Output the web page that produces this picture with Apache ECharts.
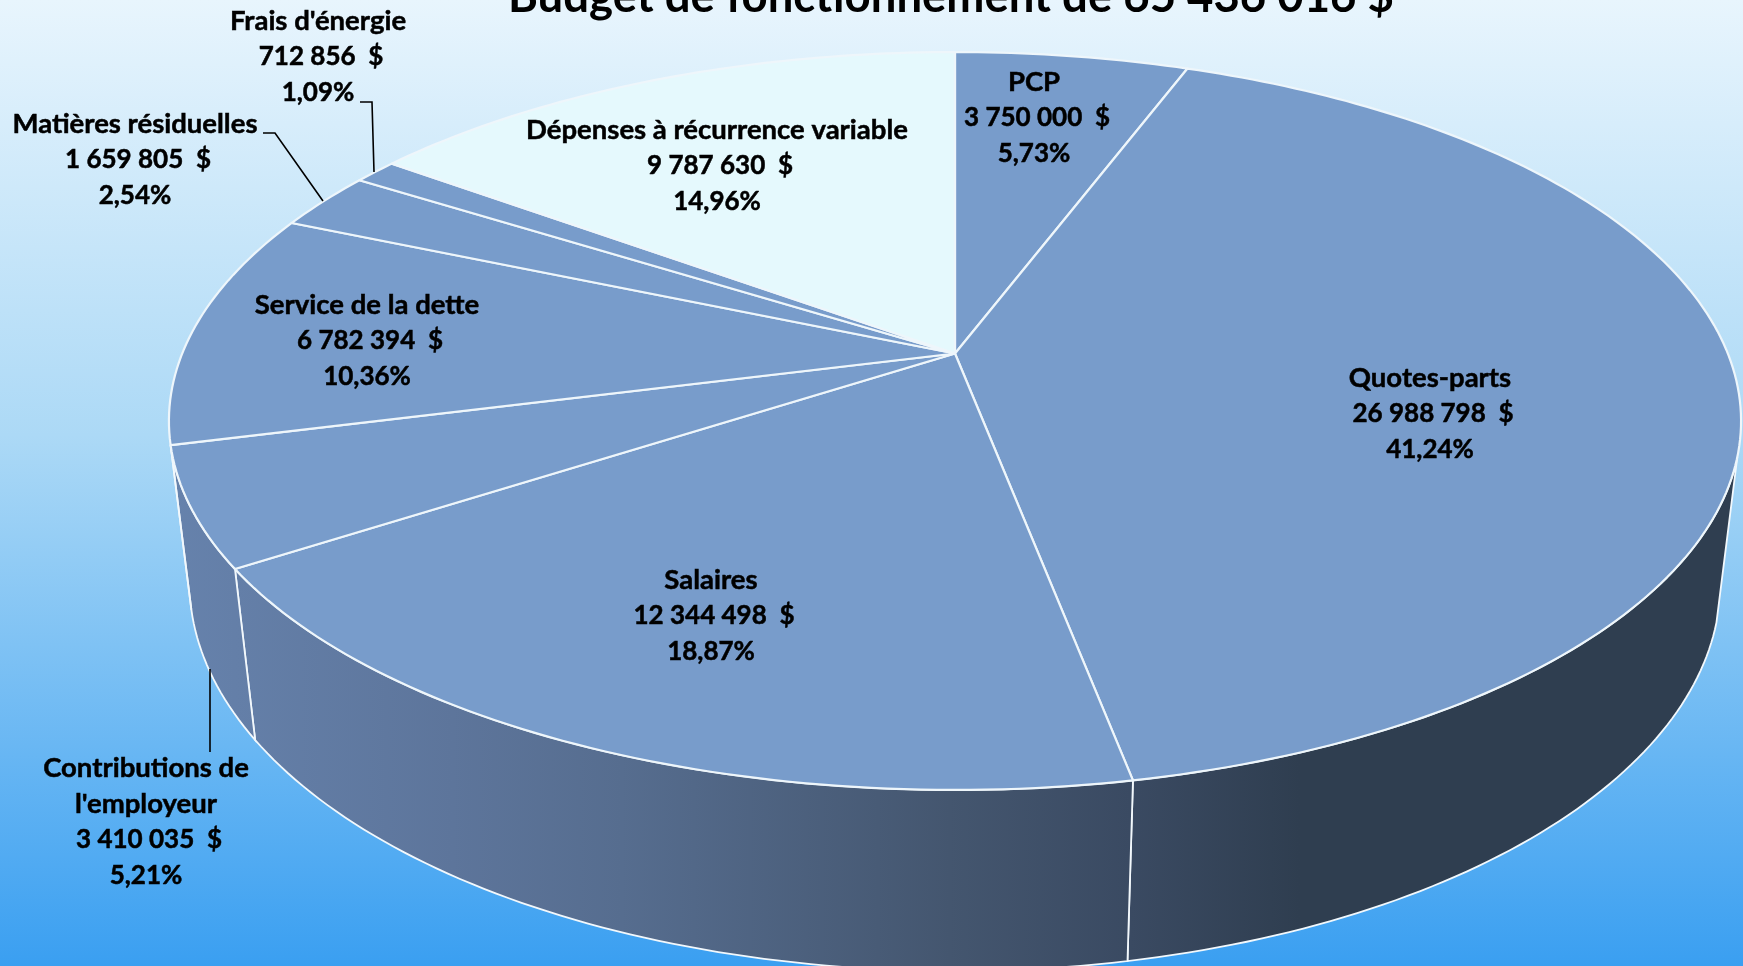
<!DOCTYPE html>
<html>
<head>
<meta charset="utf-8">
<title>Budget de fonctionnement</title>
<style>
html, body { margin: 0; padding: 0; }
#chart { width: 1743px; height: 966px; }
</style>
<script src="https://cdn.jsdelivr.net/npm/echarts@6/dist/echarts.min.js"></script>
</head>
<body>
<div id="chart"></div>
<script>
// clockwise from 12 o'clock
var names = ["PCP", "Quotes-parts", "Salaires", "Contributions de\nl'employeur", "Service de la dette", "Matières résiduelles", "Frais d'énergie", "Dépenses à récurrence variable"];
var values = [3750000, 26988798, 12344498, 3410035, 6782394, 1659805, 712856, 9787630];
var percents = ["5,73%", "41,24%", "18,87%", "5,21%", "10,36%", "2,54%", "1,09%", "14,96%"];
var titleText = "Budget de fonctionnement de 65 436 016 $";

// label centre x, y of the first line
var labelAnchors = [[1034, 82], [1430, 378], [711, 580], [146, 768], [367, 305], [135, 124], [318, 21], [717, 130]];
var leaders = [
	[[210, 669], [210, 752]],
	[[263, 133], [275, 133], [323, 201]],
	[[360, 102], [372, 102], [374, 172]]
];

var FONT = "Lato, 'Open Sans', sans-serif";
var cx = 955, cy = 353.5;
var fx = 772.8, fy = 356.6, persp = 0.183, depth = 164, depthPersp = 0.026;
var wallFrom = 106, wallTo = 255.8;

var total = 0, starts = [];
values.forEach(function (v) { starts.push(total); total += v; });

function project(deg, z) {
	var a = deg * Math.PI / 180, x = Math.sin(a), y = -Math.cos(a);
	var w = 1 - persp * y + depthPersp * z;
	return [cx + fx * x / w, cy + (fy * y + depth * z) / w];
}

function arc(from, to, z) {
	var pts = [], n = Math.max(2, Math.ceil(to - from));
	for (var i = 0; i <= n; i++) pts.push(project(from + (to - from) * i / n, z));
	return pts;
}

function sliceRange(i) {
	return [starts[i] / total * 360, (starts[i] + values[i]) / total * 360];
}

function money(v) {
	return String(v).replace(/\B(?=(\d{3})+$)/g, " ") + "  $";
}

function labelText(i, v) {
	var lines = names[i].split("\n").map(function (s) { return "{n|" + s + "}"; });
	lines.push("{m|" + money(v) + "}", "{p|" + percents[i] + "}");
	return lines.join("\n");
}

var wallColor = new echarts.graphic.LinearGradient(170, 0, 1300, 0, [
	{ offset: 0, color: "#6682ac" },
	{ offset: 0.25, color: "#5d759b" },
	{ offset: 0.4, color: "#566d8f" },
	{ offset: 0.69, color: "#44566f" },
	{ offset: 0.85, color: "#3a4a62" },
	{ offset: 1, color: "#2f3e50" }
], true);

var data = values.map(function (v) { return [v]; });

var textBase = { fontFamily: FONT, fontWeight: "bold", lineHeight: 36, fill: "#000", stroke: "#000", lineWidth: 0.5 };

var option = {
	backgroundColor: new echarts.graphic.LinearGradient(0, 0, 0, 1, [
		{ offset: 0, color: "#e8f5fd" },
		{ offset: 0.45, color: "#acd9f6" },
		{ offset: 1, color: "#3a9ff1" }
	]),
	animation: false,
	title: {
		text: titleText,
		left: 503,
		top: -31,
		textStyle: { fontFamily: FONT, fontWeight: "bold", fontSize: 45.5, color: "#000" }
	},
	series: [{
		type: "custom",
		coordinateSystem: "none",
		silent: true,
		z: 1,
		data: data,
		renderItem: function (params) {
			var r = sliceRange(params.dataIndex);
			var from = Math.max(r[0], wallFrom), to = Math.min(r[1], wallTo);
			if (to <= from) return;
			return {
				type: "polygon",
				shape: { points: arc(from, to, 0).concat(arc(from, to, 1).reverse()) },
				style: { fill: wallColor, stroke: "#f2f8fc", lineWidth: 1.8 }
			};
		}
	}, {
		type: "custom",
		coordinateSystem: "none",
		silent: true,
		z: 2,
		data: data,
		renderItem: function (params) {
			var r = sliceRange(params.dataIndex);
			var last = params.dataIndex === values.length - 1;
			return {
				type: "polygon",
				shape: { points: [[cx, cy]].concat(arc(r[0], r[1], 0)) },
				style: { fill: last ? "#e5f9fd" : "#789ccb", stroke: "#eef6fb", lineWidth: 2.2, lineJoin: "round" }
			};
		}
	}, {
		type: "custom",
		coordinateSystem: "none",
		silent: true,
		z: 3,
		data: data,
		renderItem: function (params, api) {
			var i = params.dataIndex, pos = labelAnchors[i];
			return {
				type: "text",
				style: {
					text: labelText(i, api.value(0)),
					x: pos[0],
					y: pos[1] - 18,
					align: "center",
					verticalAlign: "top",
					fontFamily: FONT,
					fontWeight: "bold",
					fill: "#000",
					rich: {
						n: Object.assign({ fontSize: 27.5 }, textBase),
						m: Object.assign({ fontSize: 26, padding: [0, 0, 0, 6] }, textBase),
						p: Object.assign({ fontSize: 26 }, textBase)
					}
				}
			};
		}
	}, {
		type: "custom",
		coordinateSystem: "none",
		silent: true,
		z: 4,
		data: leaders,
		renderItem: function (params) {
			return {
				type: "polyline",
				shape: { points: leaders[params.dataIndex] },
				style: { fill: null, stroke: "#000", lineWidth: 1.6 }
			};
		}
	}]
};

var myChart = echarts.init(document.getElementById("chart"));
myChart.setOption(option);
</script>
</body>
</html>
